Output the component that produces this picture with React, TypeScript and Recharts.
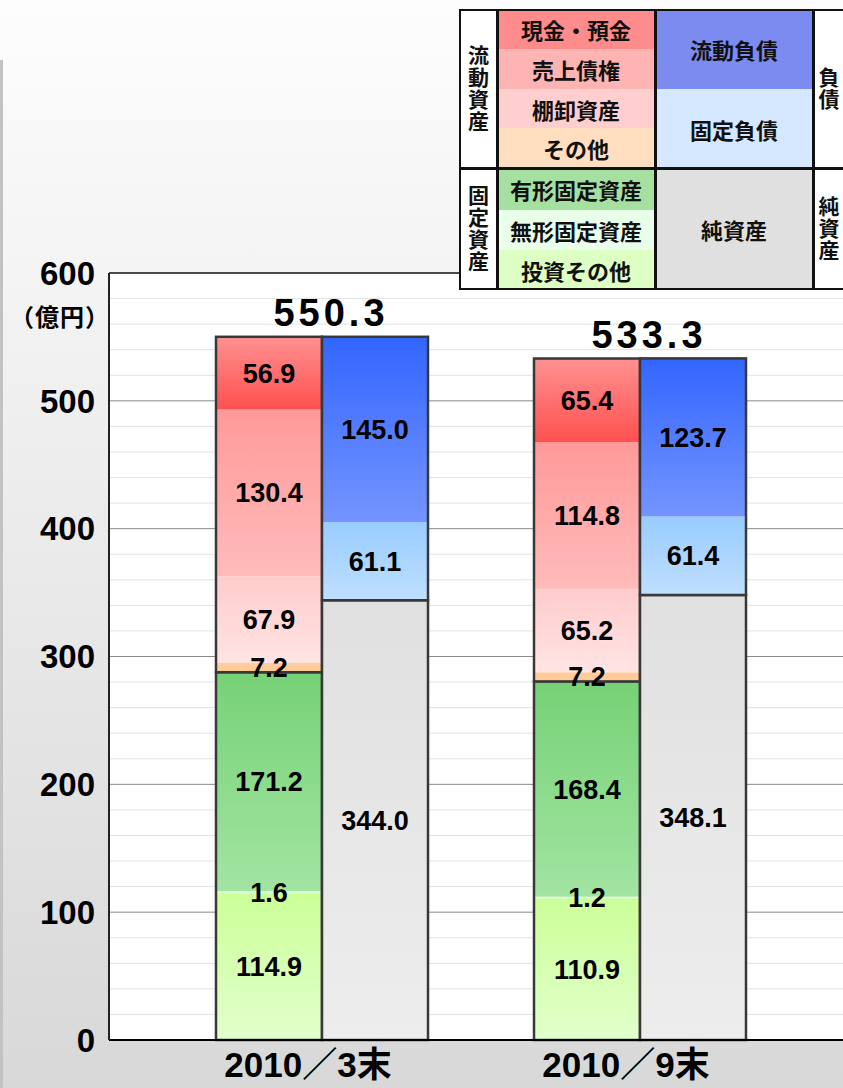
import React from 'react';
import { BarChart, Bar, XAxis, YAxis, CartesianGrid, LabelList, ReferenceLine } from 'recharts';

const periods = ['2010／3末', '2010／9末'];
const totals = [550.3, 533.3];

// 資産 (bottom -> top)
const investOther = [114.9, 110.9];
const intangible = [1.6, 1.2];
const tangible = [171.2, 168.4];
const otherCurrent = [7.2, 7.2];
const inventory = [67.9, 65.2];
const receivables = [130.4, 114.8];
const cash = [56.9, 65.4];

// 負債・純資産 (bottom -> top)
const netAssets = [344.0, 348.1];
const fixedLiab = [61.1, 61.4];
const currentLiab = [145.0, 123.7];

const yTicks = [0, 100, 200, 300, 400, 500, 600];
const minorLines = [20, 40, 60, 80, 120, 140, 160, 180, 220, 240, 260, 280, 320, 340, 360, 380, 420, 440, 460, 480, 520, 540, 560, 580];

const data = periods.map((period, i) => ({
  period,
  total: totals[i],
  investOther: investOther[i],
  intangible: intangible[i],
  tangible: tangible[i],
  otherCurrent: otherCurrent[i],
  inventory: inventory[i],
  receivables: receivables[i],
  cash: cash[i],
  netAssets: netAssets[i],
  fixedLiab: fixedLiab[i],
  currentLiab: currentLiab[i],
}));

// groups that get a dark outline, drawn by their top segment
const groups: Record<string, string[]> = {
  tangible: ['investOther', 'intangible', 'tangible'],
  cash: ['otherCurrent', 'inventory', 'receivables', 'cash'],
  netAssets: ['netAssets'],
  currentLiab: ['fixedLiab', 'currentLiab'],
};

const series = [
  { key: 'investOther', name: '投資その他', stack: 'assets', colors: ['#ccff99', '#e2ffcc'] },
  { key: 'intangible', name: '無形固定資産', stack: 'assets', colors: ['#d8ffd8', '#d8ffd8'] },
  { key: 'tangible', name: '有形固定資産', stack: 'assets', colors: ['#76d276', '#a2e4a2'] },
  { key: 'otherCurrent', name: 'その他', stack: 'assets', colors: ['#ffcc99', '#ffcc99'] },
  { key: 'inventory', name: '棚卸資産', stack: 'assets', colors: ['#ffcccc', '#ffe4e4'] },
  { key: 'receivables', name: '売上債権', stack: 'assets', colors: ['#ff9999', '#ffbbbb'] },
  { key: 'cash', name: '現金・預金', stack: 'assets', colors: ['#ff9191', '#ff5050'] },
  { key: 'netAssets', name: '純資産', stack: 'liab', colors: ['#e0e0e0', '#ededed'] },
  { key: 'fixedLiab', name: '固定負債', stack: 'liab', colors: ['#99ccff', '#bfdfff'] },
  { key: 'currentLiab', name: '流動負債', stack: 'liab', colors: ['#3366ff', '#7494ff'] },
];

const numFont = '"Liberation Sans", Arial, "Noto Sans CJK JP", sans-serif';
const jpFont = '"Noto Sans CJK JP", "Liberation Sans", sans-serif';

const makeShape = (key: string) => (props: any) => {
  const { x, y, width, height, fill, payload } = props;
  const outline = groups[key];
  let box = null;
  if (outline && payload[key] > 0) {
    const ppu = height / payload[key];
    const sum = outline.reduce((s, k) => s + payload[k], 0);
    box = (
      <rect x={x} y={y} width={width} height={sum * ppu} fill="none" stroke="#383838" strokeWidth={2.5} />
    );
  }
  return (
    <g>
      <rect x={x} y={y} width={width} height={Math.max(height, 0)} fill={fill} />
      {box}
    </g>
  );
};

const TotalLabel = (props: any) => {
  const { x, y, width, value } = props;
  return (
    <text x={x + width + 9} y={y - 11} textAnchor="middle" fontSize={38} fontWeight="bold"
      fontFamily={numFont} fill="#000" letterSpacing={4}>
      {value}
    </text>
  );
};

const PeriodTick = (props: any) => {
  const { x, y, payload } = props;
  return (
    <text x={x - 14} y={y} dy="0.71em" textAnchor="middle" fontSize={35} fontWeight="bold"
      fontFamily={numFont} fill="#000">
      {payload.value}
    </text>
  );
};

const legendCells = [
  { name: '現金・預金', x: 497, y: 9, w: 158, h: 40, bg: '#ff8c8c' },
  { name: '売上債権', x: 497, y: 49, w: 158, h: 40, bg: '#ffb4b4' },
  { name: '棚卸資産', x: 497, y: 89, w: 158, h: 39, bg: '#ffcece' },
  { name: 'その他', x: 497, y: 128, w: 158, h: 40, bg: '#ffdfbf' },
  { name: '有形固定資産', x: 497, y: 168, w: 158, h: 42, bg: '#a6e0a0' },
  { name: '無形固定資産', x: 497, y: 210, w: 158, h: 40, bg: '#eaffea' },
  { name: '投資その他', x: 497, y: 250, w: 158, h: 40, bg: '#ddffc4' },
  { name: '流動負債', x: 655, y: 9, w: 158, h: 80, bg: '#7b8bef' },
  { name: '固定負債', x: 655, y: 89, w: 158, h: 79, bg: '#d6e8ff' },
  { name: '純資産', x: 655, y: 168, w: 158, h: 122, bg: '#e0e0e0' },
];

const legendSides = [
  { name: '流動資産', x: 459, y: 9, w: 38, h: 159 },
  { name: '固定資産', x: 459, y: 168, w: 38, h: 122 },
  { name: '負債', x: 813, y: 9, w: 31, h: 159 },
  { name: '純資産', x: 813, y: 168, w: 31, h: 122 },
];

const Legend = () => (
  <>
    {legendCells.map((c) => (
      <div key={c.name + c.y} style={{
        position: 'absolute', left: c.x, top: c.y, width: c.w, height: c.h, background: c.bg,
        display: 'flex', alignItems: 'center', justifyContent: 'center',
        fontFamily: jpFont, fontWeight: 700, fontSize: 22, color: '#111',
      }}>{c.name}</div>
    ))}
    {legendSides.map((c) => (
      <div key={c.name + c.y} style={{
        position: 'absolute', left: c.x, top: c.y, width: c.w, height: c.h, background: '#fff',
        display: 'flex', alignItems: 'center', justifyContent: 'center',
        fontFamily: jpFont, fontWeight: 700, fontSize: 21, color: '#111',
      }}>
        <span style={{ writingMode: 'vertical-rl', textOrientation: 'upright', letterSpacing: 1, lineHeight: 1 }}>{c.name}</span>
      </div>
    ))}
    <div style={{ position: 'absolute', left: 459, top: 9, width: 392, height: 281, border: '2.5px solid #111', boxSizing: 'border-box' }} />
    <div style={{ position: 'absolute', left: 459, top: 167, width: 392, height: 2.5, background: '#111' }} />
    {[496, 654, 812].map((lx) => (
      <div key={lx} style={{ position: 'absolute', left: lx, top: 9, width: 2.5, height: 281, background: '#111' }} />
    ))}
  </>
);

export default function App() {
  return (
    <div style={{
      position: 'absolute', left: 0, top: 0, width: 843, height: 1088, overflow: 'hidden',
      background: 'linear-gradient(#fdfdfd, #d8d8d8)',
    }}>
      <div style={{ position: 'absolute', left: 0, top: 60, width: 3, height: 1028, background: '#c2c2c2' }} />
      <BarChart width={843} height={1088} data={data} barSize={106} barGap={0}
        margin={{ top: 273, right: 0, bottom: 18, left: 0 }}>
        <defs>
          {series.map((s) => (
            <linearGradient key={s.key} id={'g-' + s.key} x1="0" y1="0" x2="0" y2="1">
              <stop offset="0%" stopColor={s.colors[0]} />
              <stop offset="100%" stopColor={s.colors[1]} />
            </linearGradient>
          ))}
        </defs>
        <CartesianGrid vertical={false} horizontalValues={minorLines} stroke="#e2e2e2" fill="#fff" />
        <CartesianGrid vertical={false} stroke="#8a8a8a" />
        <XAxis dataKey="period" height={30} padding={{ left: 54, right: 44 }} tickLine={false} tickSize={0} tickMargin={12}
          axisLine={{ stroke: '#000', strokeWidth: 2 }} tick={<PeriodTick />} />
        <YAxis domain={[0, 600]} ticks={yTicks} width={109} tickLine={false} tickSize={0} tickMargin={14}
          axisLine={{ stroke: '#222', strokeWidth: 2 }}
          tick={{ fontSize: 33, fontWeight: 700, fill: '#000', fontFamily: numFont }} />
        <ReferenceLine y={600} stroke="#222" strokeWidth={1.5} />
        {series.map((s) => (
          <Bar key={s.key} dataKey={s.key} name={s.name} stackId={s.stack} fill={`url(#g-${s.key})`}
            shape={makeShape(s.key)} isAnimationActive={false}>
            <LabelList dataKey={s.key} position="center" formatter={(v: any) => Number(v).toFixed(1)}
              style={{ fontSize: 27, fontWeight: 700, fill: '#000', fontFamily: numFont }} />
            {s.key === 'cash' ? <LabelList dataKey="total" content={<TotalLabel />} /> : null}
          </Bar>
        ))}
      </BarChart>
      <div style={{
        position: 'absolute', left: 8, top: 298, width: 104, textAlign: 'center',
        fontFamily: jpFont, fontWeight: 700, fontSize: 24, letterSpacing: 1, color: '#000',
      }}>（億円）</div>
      <Legend />
    </div>
  );
}
